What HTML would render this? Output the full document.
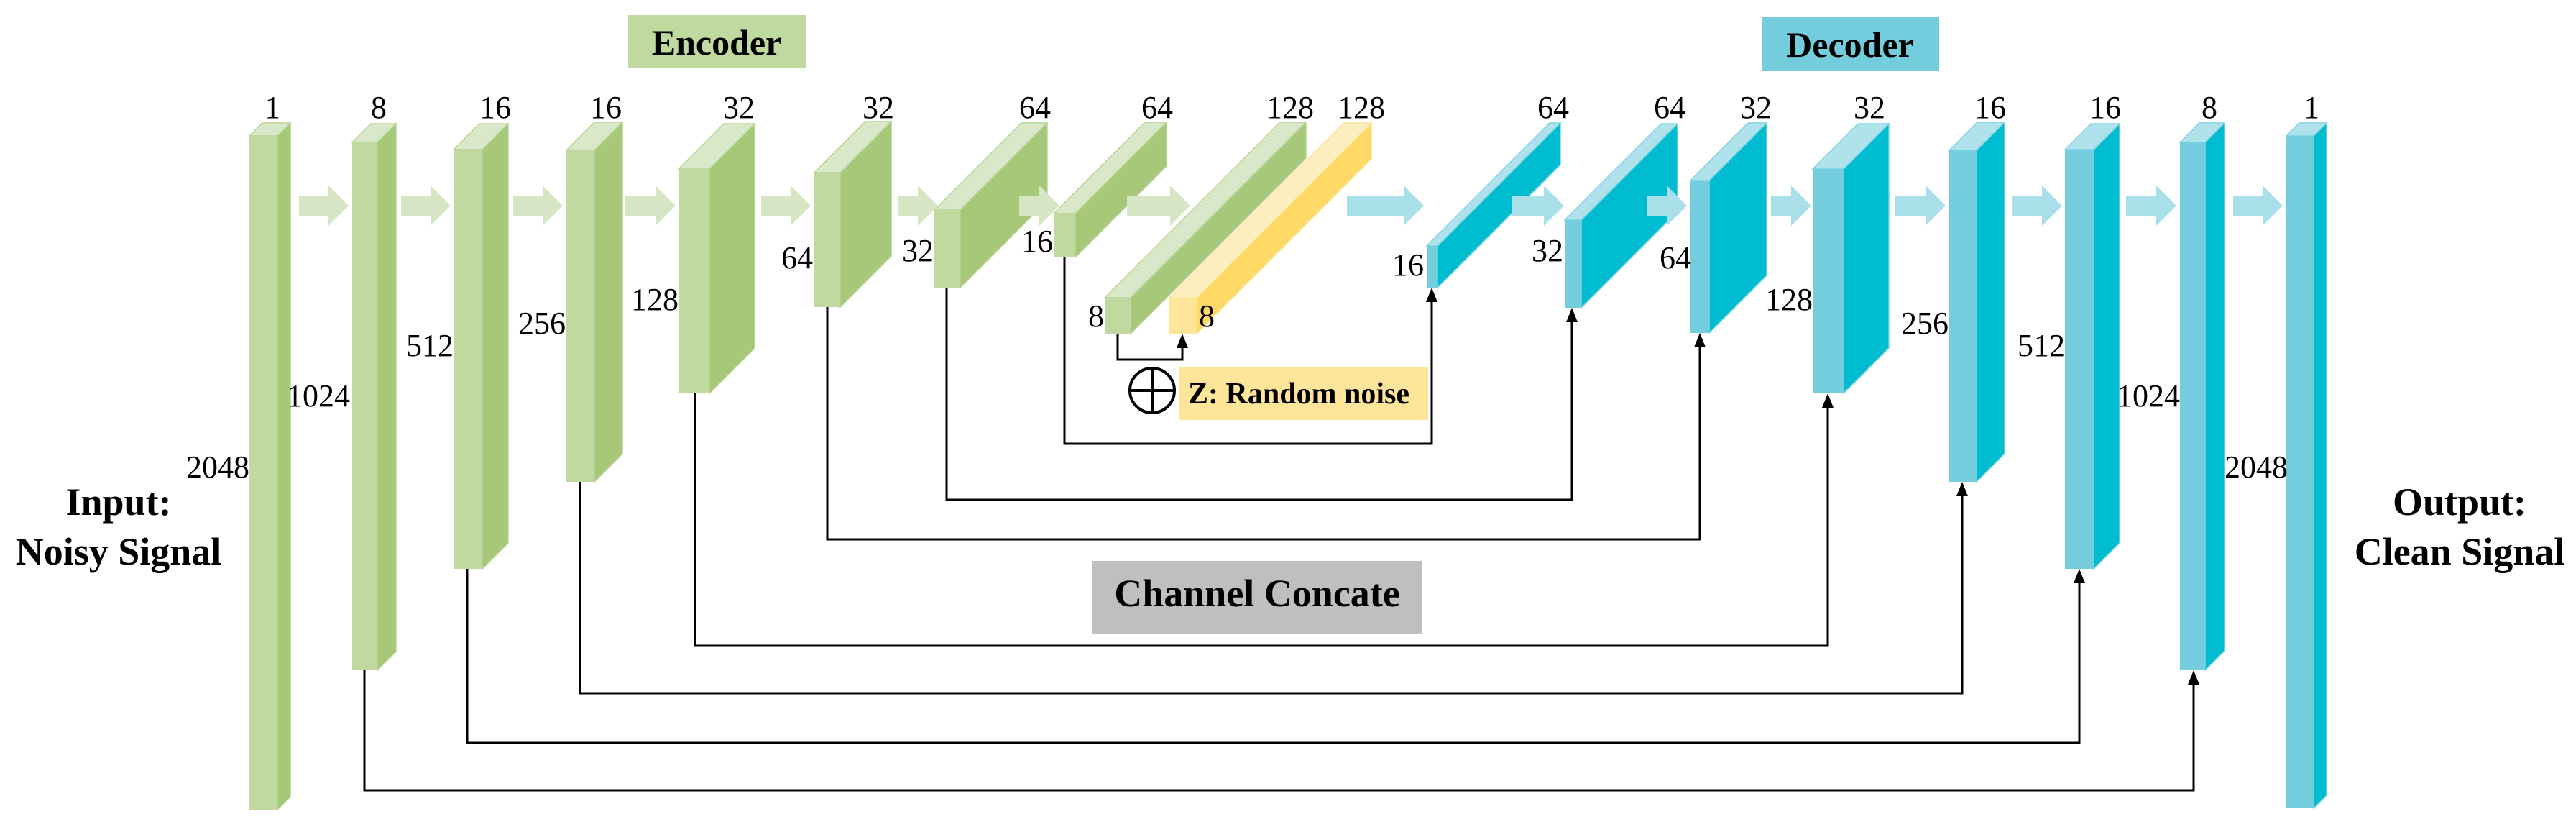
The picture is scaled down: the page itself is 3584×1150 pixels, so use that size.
<!DOCTYPE html>
<html><head><meta charset="utf-8"><style>
html,body{margin:0;padding:0;background:#fff;font-family:"Liberation Serif","Times New Roman",serif;}
svg{display:block;}
svg text{font-family:"Liberation Serif","Times New Roman","DejaVu Serif",serif !important;fill:#000;}
.n{font-size:44px;}
.b{font-weight:bold;}
</style></head><body>
<svg id="s" width="3584" height="1150" viewBox="0 0 3584 1150" xmlns="http://www.w3.org/2000/svg" font-family="Liberation Serif, Times New Roman, serif">
<rect x="874" y="21" width="247" height="74" fill="#c0d9a0"/>
<text x="997" y="76" class="b" font-family="Liberation Serif, serif" font-size="50" text-anchor="middle">Encoder</text>
<rect x="2451" y="24" width="247" height="75" fill="#74cddd"/>
<text x="2574" y="79" class="b" font-family="Liberation Serif, serif" font-size="50" text-anchor="middle">Decoder</text>

<g id="g"></g>

<text x="165" y="716" class="b" font-family="Liberation Serif, serif" font-size="54" text-anchor="middle">Input:</text>
<text x="165" y="785" class="b" font-family="Liberation Serif, serif" font-size="54" text-anchor="middle">Noisy Signal</text>
<text x="3422" y="716" class="b" font-family="Liberation Serif, serif" font-size="54" text-anchor="middle">Output:</text>
<text x="3422" y="785" class="b" font-family="Liberation Serif, serif" font-size="54" text-anchor="middle">Clean Signal</text>

<rect x="1519" y="780" width="460" height="101" fill="#bfbfbf"/>
<text x="1749" y="843" class="b" font-family="Liberation Serif, serif" font-size="54" text-anchor="middle">Channel Concate</text>

<rect x="1641" y="510" width="346" height="74" fill="#fee599"/>
<text x="1653" y="561" class="b" font-family="Liberation Serif, serif" font-size="42">Z: Random noise</text>
<circle cx="1603" cy="543" r="31" fill="none" stroke="#000" stroke-width="4"/>
<line x1="1572" y1="543" x2="1634" y2="543" stroke="#000" stroke-width="4"/>
<line x1="1603" y1="512" x2="1603" y2="574" stroke="#000" stroke-width="4"/>
</svg>
<script>
var g=document.getElementById('g');var h='';
var G=['#c0d9a0','#a6c878','#d9e8c8','#b5d494'],Y=['#fee599','#ffd966','#fdeec0','#fbe3a0'],B=['#74cddd','#00bcd0','#b0e2ec','#7fd3e0'];
function blk(x0,x1,yt,yb,d,c){
h+='<polygon points="'+x1+','+yt+' '+(x1+d)+','+(yt-d)+' '+(x1+d)+','+(yb-d)+' '+x1+','+yb+'" fill="'+c[1]+'" stroke="'+c[3]+'" stroke-width="1.5"/>';
h+='<polygon points="'+x0+','+yt+' '+(x0+d)+','+(yt-d)+' '+(x1+d)+','+(yt-d)+' '+x1+','+yt+'" fill="'+c[2]+'" stroke="'+c[3]+'" stroke-width="1.5"/>';
h+='<rect x="'+x0+'" y="'+yt+'" width="'+(x1-x0)+'" height="'+(yb-yt)+'" fill="'+c[0]+'"/>';
}
function arr(x0,x1,c){var hx=x1-28;
h+='<polygon points="'+x0+',272 '+hx+',272 '+hx+',258 '+x1+',286 '+hx+',314 '+hx+',300 '+x0+',300" fill="'+c+'"/>';}
function t(x,y,s,a){h+='<text class="n" font-family="Liberation Serif, serif" font-size="44" x="'+x+'" y="'+y+'" text-anchor="'+(a||'middle')+'">'+s+'</text>';}
var AG='#d6e6c4',AB='#a9dfe9';
blk(347,386,189,1126,18,G);arr(416,485,AG);
blk(490,525,198,932,26,G);arr(558,627,AG);
blk(631,671,208,791,36,G);arr(714,783,AG);
blk(788,827,209,670,39,G);arr(869,940,AG);
blk(944,987,235,547,63,G);arr(1059,1128,AG);
blk(1133,1169,240,427,71,G);arr(1249,1305,AG);
blk(1300,1336,292,400,121,G);arr(1418,1474,AG);
blk(1466,1496,297,358,127,G);arr(1568,1656,AG);
blk(1537,1573,414,464,244,G);
blk(1627,1665,414,464,243,Y);
arr(1874,1981,AB);
blk(1985,2000,342,400,171,B);arr(2104,2176,AB);
blk(2177,2200,306,428,134,B);arr(2292,2347,AB);
blk(2352,2378,251,463,80,B);arr(2464,2520,AB);
blk(2522,2565,235,547,63,B);arr(2637,2707,AB);
blk(2712,2750,209,670,39,B);arr(2799,2869,AB);
blk(2873,2913,208,791,36,B);arr(2958,3028,AB);
blk(3033,3068,198,932,27,B);arr(3107,3176,AB);
blk(3181,3219,189,1124,18,B);
var tl=[[379,'1'],[527,'8'],[689,'16'],[843,'16'],[1028,'32'],[1222,'32'],[1440,'64'],[1610,'64'],[1795,'128'],[1894,'128'],[2161,'64'],[2323,'64'],[2443,'32'],[2601,'32'],[2769,'16'],[2929,'16'],[3074,'8'],[3216,'1']];
tl.forEach(function(a){t(a[0],164,a[1]);});
var sl=[[347,664,'2048'],[487,565,'1024'],[631,495,'512'],[787,464,'256'],[944,431,'128'],[1131,373,'64'],[1299,363,'32'],[1465,350,'16'],[1536,454,'8'],[1981,383,'16'],[2175,363,'32'],[2353,373,'64'],[2522,431,'128'],[2711,464,'256'],[2873,495,'512'],[3033,565,'1024'],[3183,664,'2048']];
sl.forEach(function(a){t(a[0],a[1],a[2],'end');});
t(1668,454,'8','start');
function con(xs,ys,yl,xe,ye){
h+='<polyline points="'+xs+','+ys+' '+xs+','+yl+' '+xe+','+yl+' '+xe+','+(ye+14)+'" fill="none" stroke="#000" stroke-width="3"/>';
h+='<polygon points="'+xe+','+ye+' '+(xe-8)+','+(ye+20)+' '+(xe+8)+','+(ye+20)+'" fill="#000"/>';}
con(1555,464,500,1645,464);
con(1481,358,617,1992,400);
con(1317,400,695,2187,428);
con(1151,427,750,2365,463);
con(967,547,898,2543,547);
con(807,670,964,2730,670);
con(650,791,1033,2893,791);
con(507,932,1099,3052,932);
g.innerHTML=h;
</script>
</body></html>
